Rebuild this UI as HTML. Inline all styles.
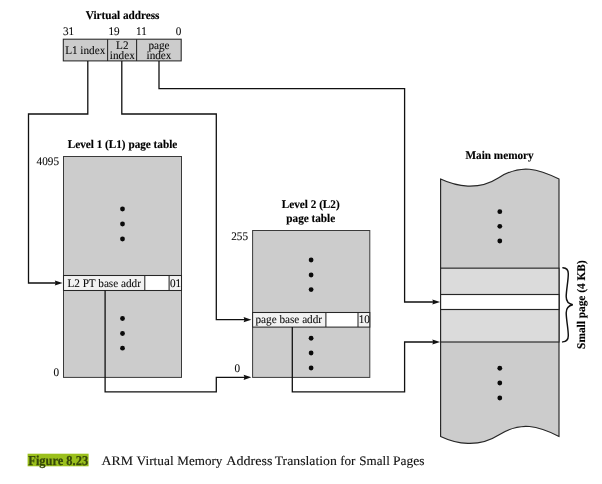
<!DOCTYPE html>
<html>
<head>
<meta charset="utf-8">
<title>Figure 8.23 ARM Virtual Memory Address Translation for Small Pages</title>
<style>
html,body{margin:0;padding:0;background:#fff;}
body{width:602px;height:484px;overflow:hidden;}
svg{display:block;will-change:transform;}
text{text-rendering:geometricPrecision;font-family:"Liberation Serif","DejaVu Serif",serif;fill:#0a0a0a;stroke:#0a0a0a;stroke-width:0.08px;}
.b{font-weight:bold;font-size:11.7px;fill:#000;stroke:#000;stroke-width:0.15px;}
.n{font-size:11.6px;}
.ln{fill:none;stroke:#111;stroke-width:1.3;stroke-linejoin:miter;}
.bx{stroke:#3a3a3a;stroke-width:1;}
.er{stroke:#262626;stroke-width:1.05;}
.mm{stroke:#262626;stroke-width:1.15;}
.dot{fill:#0a0a0a;}
.ah{fill:#111;stroke:none;}
</style>
</head>
<body>
<svg width="602" height="484" viewBox="0 0 602 484">
<rect x="0" y="0" width="602" height="484" fill="#ffffff"/>

<!-- Virtual address -->
<text class="b" x="122.6" y="18.6" text-anchor="middle" textLength="73.74" lengthAdjust="spacingAndGlyphs">Virtual address</text>
<text class="n" x="63" y="34.5" textLength="11.20" lengthAdjust="spacingAndGlyphs">31</text>
<text class="n" x="108.5" y="34.5" textLength="11.20" lengthAdjust="spacingAndGlyphs">19</text>
<text class="n" x="136" y="34.5" textLength="10.78" lengthAdjust="spacingAndGlyphs">11</text>
<text class="n" x="181.3" y="34.5" text-anchor="end" textLength="5.60" lengthAdjust="spacingAndGlyphs">0</text>
<rect class="er" x="63.3" y="39.2" width="117.9" height="21.7" fill="#cccccc"/>
<path class="er" d="M107.6,39.2V60.9M136.6,39.2V60.9" fill="none"/>
<text class="n" x="85.2" y="53.7" text-anchor="middle" textLength="40.12" lengthAdjust="spacingAndGlyphs">L1 index</text>
<text class="n" x="122.3" y="48.6" text-anchor="middle" textLength="12.44" lengthAdjust="spacingAndGlyphs">L2</text>
<text class="n" x="122.3" y="58.8" text-anchor="middle" textLength="24.88" lengthAdjust="spacingAndGlyphs">index</text>
<text class="n" x="159" y="48.6" text-anchor="middle" textLength="21.14" lengthAdjust="spacingAndGlyphs">page</text>
<text class="n" x="159" y="58.8" text-anchor="middle" textLength="24.88" lengthAdjust="spacingAndGlyphs">index</text>

<!-- connectors -->
<path class="ln" d="M87.8,61V114H28.5V283H57"/>
<path class="ah" d="M62.6,283L54.8,280.4L55.7,283L54.8,285.6Z"/>
<path class="ln" d="M121.8,61V114H216.3V319.7H246"/>
<path class="ah" d="M251.4,319.7L243.6,317.1L244.5,319.7L243.6,322.3Z"/>
<path class="ln" d="M159,61V88.7H404.6V302H434"/>
<path class="ah" d="M440.1,302L432.3,299.4L433.2,302L432.3,304.6Z"/>

<!-- L1 page table -->
<text class="b" x="122.5" y="148" text-anchor="middle" textLength="109.50" lengthAdjust="spacingAndGlyphs">Level 1 (L1) page table</text>
<text class="n" x="59" y="164.5" text-anchor="end" textLength="22.40" lengthAdjust="spacingAndGlyphs">4095</text>
<text class="n" x="59" y="375.5" text-anchor="end" textLength="5.60" lengthAdjust="spacingAndGlyphs">0</text>
<rect class="bx" x="63.5" y="156.5" width="118" height="220.9" fill="#cccccc"/>
<rect x="63.5" y="275.5" width="118" height="15" fill="#f2f2f2"/>
<rect x="144.8" y="275.5" width="24.3" height="15" fill="#ffffff"/>
<path class="er" d="M144.8,275.5V290.5M169.1,275.5V290.5" fill="none"/>
<rect class="er" x="63.5" y="275.5" width="118" height="15" fill="none"/>
<text class="n" x="67.4" y="286.6" textLength="73.51" lengthAdjust="spacingAndGlyphs">L2 PT base addr</text>
<text class="n" x="170" y="286.6" textLength="11.20" lengthAdjust="spacingAndGlyphs">01</text>
<circle class="dot" cx="122.5" cy="209" r="2.4"/>
<circle class="dot" cx="122.5" cy="224" r="2.4"/>
<circle class="dot" cx="122.5" cy="239" r="2.4"/>
<circle class="dot" cx="122.5" cy="318.5" r="2.4"/>
<circle class="dot" cx="122.5" cy="333.5" r="2.4"/>
<circle class="dot" cx="122.5" cy="348.2" r="2.4"/>

<!-- L2 page table -->
<text class="b" x="310.75" y="208" text-anchor="middle" textLength="57.85" lengthAdjust="spacingAndGlyphs">Level 2 (L2)</text>
<text class="b" x="310.75" y="221.5" text-anchor="middle" textLength="48.84" lengthAdjust="spacingAndGlyphs">page table</text>
<text class="n" x="248" y="240" text-anchor="end" textLength="16.80" lengthAdjust="spacingAndGlyphs">255</text>
<text class="n" x="240" y="372" text-anchor="end" textLength="5.60" lengthAdjust="spacingAndGlyphs">0</text>
<rect class="bx" x="252.6" y="230.5" width="117.2" height="146.9" fill="#cccccc"/>
<rect x="252.6" y="312.5" width="117.2" height="14.6" fill="#f2f2f2"/>
<rect x="325.9" y="312.5" width="32.1" height="14.6" fill="#ffffff"/>
<path class="er" d="M325.9,312.5V327.1M358,312.5V327.1" fill="none"/>
<rect class="er" x="252.6" y="312.5" width="117.2" height="14.6" fill="none"/>
<text class="n" x="255.5" y="322.6" textLength="66.54" lengthAdjust="spacingAndGlyphs">page base addr</text>
<text class="n" x="358.7" y="322.6" textLength="11.20" lengthAdjust="spacingAndGlyphs">10</text>
<circle class="dot" cx="311.1" cy="260" r="2.4"/>
<circle class="dot" cx="311.1" cy="275" r="2.4"/>
<circle class="dot" cx="311.1" cy="289.6" r="2.4"/>
<circle class="dot" cx="311.1" cy="338.25" r="2.4"/>
<circle class="dot" cx="311.1" cy="353" r="2.4"/>
<circle class="dot" cx="311.1" cy="368" r="2.4"/>

<!-- connectors from entries -->
<path class="ln" d="M105.1,290.5V391.8H216.3V377.3H246"/>
<path class="ah" d="M251.4,377.3L243.6,374.7L244.5,377.3L243.6,379.9Z"/>
<path class="ln" d="M292.3,327V391.8H404.6V342H434"/>
<path class="ah" d="M440.1,342L432.3,339.4L433.2,342L432.3,344.6Z"/>

<!-- Main memory -->
<text class="b" x="499.6" y="158.5" text-anchor="middle" textLength="68.11" lengthAdjust="spacingAndGlyphs">Main memory</text>
<path class="mm" d="M440.6,179.1 C456.3,186.5 478.3,190.8 498.7,177.7 C520.8,163.5 538.6,168.9 559,179.1 V436.4 C538.6,426.2 520.8,420.8 498.7,435.0 C478.3,448.1 456.3,443.8 440.6,436.4 Z" fill="#cccccc"/>
<rect class="mm" x="440.6" y="268.15" width="118.4" height="73.85" fill="#dbdbdb"/>
<rect class="mm" x="440.6" y="294.5" width="118.4" height="15" fill="#ffffff"/>
<circle class="dot" cx="499.8" cy="211.7" r="2.4"/>
<circle class="dot" cx="499.8" cy="226.3" r="2.4"/>
<circle class="dot" cx="499.8" cy="241" r="2.4"/>
<circle class="dot" cx="499.8" cy="368.25" r="2.4"/>
<circle class="dot" cx="499.8" cy="383" r="2.4"/>
<circle class="dot" cx="499.8" cy="398" r="2.4"/>

<!-- brace -->
<path class="ln" style="stroke-width:1.45;stroke-linecap:round" d="M562.9,267.8 C566.6,268 568.3,270 568.3,273.8 C568.3,281 566.2,290 566.2,296.8 C566.2,301.3 568.4,303.9 572.8,304.8 C568.4,305.7 566.2,308.3 566.2,312.8 C566.2,319.6 568.3,328.6 568.3,335.8 C568.3,339.6 566.6,341.6 562.6,341.9"/>
<text class="b" transform="translate(585.3,304.6) rotate(-90)" text-anchor="middle" textLength="88.59" lengthAdjust="spacingAndGlyphs">Small page (4 KB)</text>

<!-- caption -->
<rect x="27.6" y="453.7" width="61" height="12.6" fill="#9bc01c"/>
<text x="28.3" y="464.5" textLength="59.8" lengthAdjust="spacingAndGlyphs" style="font-weight:bold;font-size:13.6px;fill:#36480a;stroke:#36480a;stroke-width:0.25px">Figure 8.23</text>
<text y="464.6" style="font-size:13px;fill:#111;stroke:#111;stroke-width:0.12px"><tspan x="101.6" textLength="31.4" lengthAdjust="spacingAndGlyphs">ARM</tspan> <tspan x="136.6" textLength="37.0" lengthAdjust="spacingAndGlyphs">Virtual</tspan> <tspan x="177.3" textLength="45.1" lengthAdjust="spacingAndGlyphs">Memory</tspan> <tspan x="226.3" textLength="46.2" lengthAdjust="spacingAndGlyphs">Address</tspan> <tspan x="274.7" textLength="62.1" lengthAdjust="spacingAndGlyphs">Translation</tspan> <tspan x="340.2" textLength="15.3" lengthAdjust="spacingAndGlyphs">for</tspan> <tspan x="359.3" textLength="30.5" lengthAdjust="spacingAndGlyphs">Small</tspan> <tspan x="393.1" textLength="31.5" lengthAdjust="spacingAndGlyphs">Pages</tspan></text>
</svg>
</body>
</html>
